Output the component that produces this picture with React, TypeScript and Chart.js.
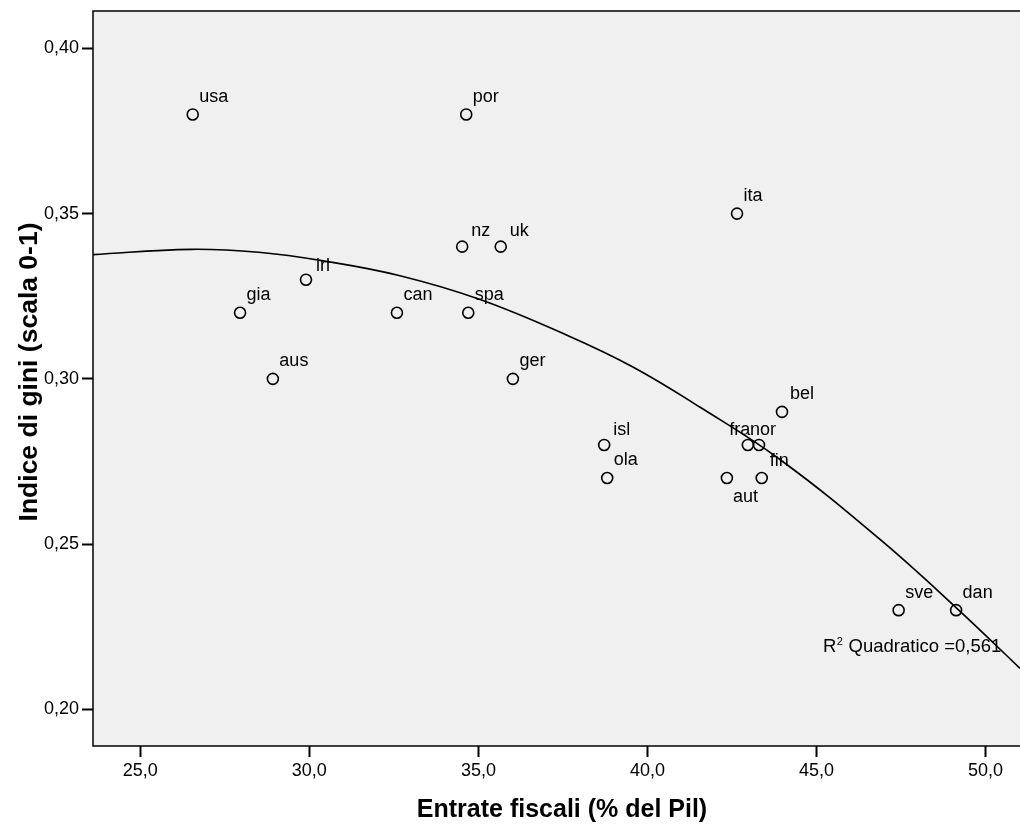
import { useEffect, useRef } from "react";
import { Chart, registerables } from "chart.js";

Chart.register(...registerables);

// ---- data ----
const countries = ["usa", "por", "ita", "nz", "uk", "irl", "gia", "can", "spa", "aus", "ger", "bel", "isl", "fra", "nor", "ola", "aut", "fin", "sve", "dan"];
const taxRevenue = [26.55, 34.64, 42.65, 34.52, 35.66, 29.9, 27.95, 32.59, 34.7, 28.92, 36.02, 43.98, 38.72, 42.97, 43.3, 38.81, 42.35, 43.38, 47.43, 49.13];
const giniIndex = [0.38, 0.38, 0.35, 0.34, 0.34, 0.33, 0.32, 0.32, 0.32, 0.3, 0.3, 0.29, 0.28, 0.28, 0.28, 0.27, 0.27, 0.27, 0.23, 0.23];

// quadratic fit line
const fitX = [23.6, 26.5, 28.5, 30.41, 32.68, 35.05, 37.62, 39.57, 41.56, 43.92, 46.88, 49.16, 51.02];
const fitY = [0.3376, 0.3392, 0.3383, 0.3357, 0.3312, 0.3240, 0.3132, 0.3036, 0.2914, 0.2756, 0.2514, 0.2305, 0.2124];

const xTicks = [25, 30, 35, 40, 45, 50];
const yTicks = [0.2, 0.25, 0.3, 0.35, 0.4];
const rSquaredLabel = "Quadratico =0,561";

const xTitle = "Entrate fiscali (% del Pil)";
const yTitle = "Indice di gini (scala 0-1)";

// label placement (pixel offsets of the text from the marker)
const defaultLabelOffset: [number, number] = [6.5, -12.5];
const labelOffsets: Record<string, [number, number]> = {
  irl: [10, -9],
  nz: [9, -11],
  uk: [9, -11],
  isl: [9, -10],
  fra: [-18.7, -10],
  nor: [-9, -10],
  aut: [6, 24],
  fin: [8, -11.5],
  bel: [8, -13],
};

const FONT = "'Liberation Sans', Arial, Helvetica, sans-serif";

const plotBgPlugin = {
  id: "plotBg",
  beforeDraw(chart: any) {
    const { ctx, chartArea } = chart;
    ctx.save();
    ctx.fillStyle = "#f0f0f0";
    ctx.fillRect(chartArea.left, chartArea.top, chartArea.right - chartArea.left, chartArea.bottom - chartArea.top);
    ctx.restore();
  },
  afterDraw(chart: any) {
    const { ctx, chartArea } = chart;
    ctx.save();
    ctx.strokeStyle = "#000";
    ctx.lineWidth = 1.5;
    ctx.beginPath();
    ctx.moveTo(chartArea.right + 2, chartArea.top);
    ctx.lineTo(chartArea.left, chartArea.top);
    ctx.lineTo(chartArea.left, chartArea.bottom);
    ctx.lineTo(chartArea.right + 2, chartArea.bottom);
    ctx.stroke();

    // R² annotation
    const x0 = chartArea.right - 197;
    const base = chartArea.bottom - 94;
    ctx.fillStyle = "#000";
    ctx.textBaseline = "alphabetic";
    ctx.textAlign = "left";
    ctx.font = `18.5px ${FONT}`;
    ctx.fillText("R", x0, base);
    const wR = ctx.measureText("R").width;
    ctx.font = `11px ${FONT}`;
    ctx.fillText("2", x0 + wR + 0.5, base - 7);
    const w2 = ctx.measureText("2").width;
    ctx.font = `18.5px ${FONT}`;
    ctx.fillText(" " + rSquaredLabel, x0 + wR + w2 + 1, base);

    // axis titles
    ctx.textAlign = "center";
    ctx.textBaseline = "middle";
    ctx.font = `bold 25px ${FONT}`;
    ctx.fillText(xTitle, chartArea.left + 469, chart.height - 18);
    ctx.save();
    ctx.translate(30, chartArea.top + 361);
    ctx.rotate(-Math.PI / 2);
    ctx.font = `bold 26.5px ${FONT}`;
    ctx.fillText(yTitle, 0, 0);
    ctx.restore();
    ctx.restore();
  },
};

const pointLabelPlugin = {
  id: "pointLabels",
  afterDatasetsDraw(chart: any) {
    const { ctx } = chart;
    const meta = chart.getDatasetMeta(1);
    ctx.save();
    ctx.fillStyle = "#000";
    ctx.font = `18px ${FONT}`;
    ctx.textAlign = "left";
    ctx.textBaseline = "alphabetic";
    meta.data.forEach((el: any, i: number) => {
      const name = countries[i];
      const [dx, dy] = labelOffsets[name] || defaultLabelOffset;
      ctx.fillText(name, el.x + dx, el.y + dy);
    });
    ctx.restore();
  },
};

export default function App() {
  const canvasRef = useRef<HTMLCanvasElement | null>(null);

  useEffect(() => {
    const canvas = canvasRef.current;
    if (!canvas) return;
    const chart = new Chart(canvas, {
      type: "scatter",
      data: {
        datasets: [
          {
            type: "line",
            data: fitX.map((x, i) => ({ x, y: fitY[i] })),
            borderColor: "#000",
            borderWidth: 1.7,
            pointRadius: 0,
            pointHoverRadius: 0,
            fill: false,
            tension: 0.4,
          } as any,
          {
            type: "scatter",
            data: taxRevenue.map((x, i) => ({ x, y: giniIndex[i] })),
            pointRadius: 5.5,
            pointHoverRadius: 5.5,
            borderWidth: 1.6,
            borderColor: "#000",
            backgroundColor: "rgba(0,0,0,0)",
          } as any,
        ],
      },
      options: {
        responsive: false,
        animation: false,
        devicePixelRatio: 1,
        events: [],
        layout: { autoPadding: false, padding: { top: 11, left: 0, right: 0, bottom: 0 } },
        plugins: { legend: { display: false }, tooltip: { enabled: false } },
        scales: {
          x: {
            type: "linear",
            min: 23.6,
            max: 51.02,
            afterBuildTicks: (s: any) => {
              s.ticks = xTicks.map((v) => ({ value: v }));
            },
            afterFit: (s: any) => {
              s.height = 82;
              s.paddingLeft = 0;
              s.paddingRight = 0;
            },
            grid: { drawOnChartArea: false, drawTicks: true, tickLength: 11, tickWidth: 2, tickColor: "#000", color: "#000" },
            border: { display: false },
            ticks: {
              color: "#000",
              font: { family: FONT, size: 18 },
              padding: 3,
              maxRotation: 0,
              autoSkip: false,
              callback: (v: any) => Number(v).toFixed(1).replace(".", ","),
            },
            title: { display: false },
          },
          y: {
            type: "linear",
            min: 0.1889,
            max: 0.4113,
            afterBuildTicks: (s: any) => {
              s.ticks = yTicks.map((v) => ({ value: v }));
            },
            afterFit: (s: any) => {
              s.width = 93;
              s.paddingTop = 0;
              s.paddingBottom = 0;
            },
            grid: { drawOnChartArea: false, drawTicks: true, tickLength: 11, tickWidth: 2, tickColor: "#000", color: "#000" },
            border: { display: false },
            ticks: {
              color: "#000",
              font: { family: FONT, size: 18 },
              padding: 3,
              autoSkip: false,
              callback: (v: any) => Number(v).toFixed(2).replace(".", ","),
            },
            title: { display: false },
          },
        },
      } as any,
      plugins: [plotBgPlugin, pointLabelPlugin],
    });
    return () => chart.destroy();
  }, []);

  return (
    <div style={{ position: "absolute", left: 0, top: 0, width: 1020, height: 828, background: "#fff" }}>
      <canvas ref={canvasRef} width={1020} height={828} style={{ display: "block", width: 1020, height: 828 }} />
    </div>
  );
}
